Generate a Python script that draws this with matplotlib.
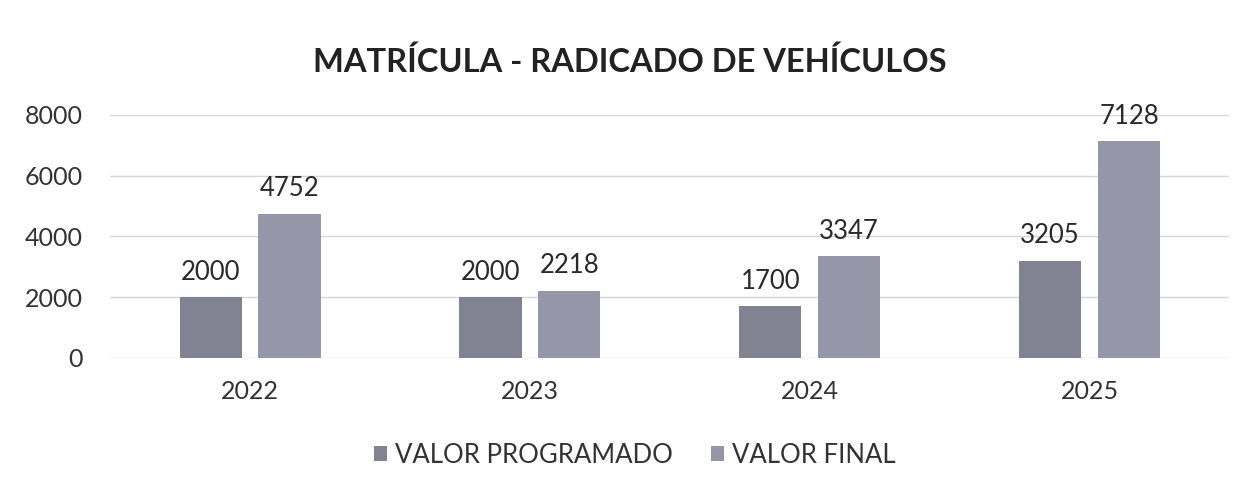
import numpy as np
import matplotlib.pyplot as plt

plt.rcParams['font.family'] = ['Lato', 'DejaVu Sans']

# Data
years = ['2022', '2023', '2024', '2025']
valor_programado = [2000, 2000, 1700, 3205]
valor_final = [4752, 2218, 3347, 7128]

fig = plt.figure(figsize=(12.52, 4.91), dpi=100)
ax = fig.add_axes([0.088, 0.271, 0.894, 0.495])

x = np.arange(len(years))
w = 0.222
b1 = ax.bar(x - 0.141, valor_programado, w, color='#818392', label='VALOR PROGRAMADO')
b2 = ax.bar(x + 0.141, valor_final, w, color='#9597a8', label='VALOR FINAL')

for bars in (b1, b2):
    for r in bars:
        ax.text(r.get_x() + r.get_width() / 2, r.get_height() + 400, f'{int(r.get_height())}',
                ha='center', va='bottom', fontsize=18.5, color='#2a2a2a')

ax.set_xlim(-0.5, 3.5)
ax.set_ylim(0, 8000)
ax.set_yticks([0, 2000, 4000, 6000, 8000])
ax.set_xticks(x)
ax.set_xticklabels(years)
ax.tick_params(axis='both', length=0, labelsize=18, colors='#333333')
ax.tick_params(axis='x', pad=16)
ax.tick_params(axis='y', pad=20)
ax.grid(axis='y', color='#d6d6d6', linewidth=1)
ax.set_axisbelow(True)
for s in ax.spines.values():
    s.set_visible(False)

fig.text(0.503, 0.875, 'MATRÍCULA - RADICADO DE VEHÍCULOS', ha='center', va='center',
         fontsize=23.5, fontweight='bold', color='#222222')

fig.legend(loc='center', bbox_to_anchor=(0.507, 0.073), ncol=2, frameon=False,
           fontsize=18.5, handlelength=0.5, handleheight=0.5, handletextpad=0.3,
           columnspacing=1.5, labelcolor='#333333')

fig.savefig('out.png', dpi=100, facecolor='white')
